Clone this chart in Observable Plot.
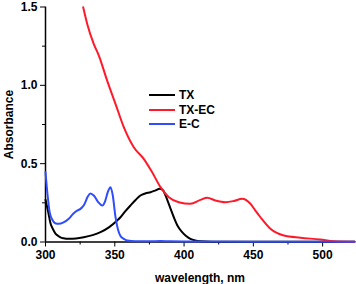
<!DOCTYPE html>
<html>
<head>
<meta charset="utf-8">
<script src="https://cdn.jsdelivr.net/npm/d3@7"></script>
<script src="https://cdn.jsdelivr.net/npm/@observablehq/plot@0.6"></script>
<style>
  html, body { margin: 0; padding: 0; background: #fff; }
  #wrap { position: relative; width: 356px; height: 284px; font-family: "Liberation Sans", Arial, sans-serif; }
  #wrap svg text { font-weight: bold; }
  #legend { position: absolute; left: 149px; top: 88px; font: bold 12px "Liberation Sans", Arial, sans-serif; }
  .row { display: flex; align-items: center; height: 14.5px; }
  .sw { width: 26px; height: 2px; margin-right: 4px; }
</style>
</head>
<body>
<div id="wrap"><div id="legend"></div></div>
<script>
const seriesNames = ["TX", "TX-EC", "E-C"];
const seriesColors = ["#000000", "#ff1a2a", "#2f4dff"];

const txWavelength = [300, 302, 303.6, 305.5, 307.2, 309, 310.8, 313, 316.8, 322, 327.6, 334, 339.7, 346, 351.7, 354.1, 357.5, 361.3, 365, 368.5, 372, 375.8, 379, 382.5, 384.8, 386.6, 389.5, 392.6, 395.5, 398.6, 401.5, 404.6, 408, 412, 420, 440, 480, 523];
const txAbs = [0.27, 0.19, 0.12, 0.08, 0.054, 0.04, 0.03, 0.024, 0.02, 0.022, 0.03, 0.044, 0.063, 0.095, 0.137, 0.158, 0.195, 0.233, 0.268, 0.297, 0.31, 0.318, 0.328, 0.34, 0.33, 0.297, 0.23, 0.158, 0.1, 0.063, 0.038, 0.02, 0.01, 0.005, 0.002, 0.001, 0.001, 0.001];

const txecWavelength = [327.2, 330.1, 334.8, 338.5, 344.5, 350.5, 356.5, 363.7, 370.9, 377, 383, 389, 396.2, 404.6, 411.8, 416.7, 422.6, 429.9, 436, 441.9, 447.9, 451.5, 455.1, 462.3, 472, 484, 498.4, 508, 523];
const txecAbs = [1.498, 1.392, 1.265, 1.19, 1.03, 0.882, 0.733, 0.605, 0.531, 0.445, 0.35, 0.286, 0.254, 0.244, 0.269, 0.282, 0.265, 0.254, 0.262, 0.276, 0.244, 0.2, 0.158, 0.084, 0.041, 0.027, 0.016, 0.005, 0.002];

const ecWavelength = [300, 301.5, 303, 305, 307, 309.6, 313, 317, 320, 322.8, 325, 328, 330.5, 332.5, 335, 338, 340.9, 343, 345, 346.9, 348.5, 350.5, 352.3, 354, 356.5, 359, 365, 375, 383, 390, 400, 450, 523];
const ecAbs = [0.445, 0.3, 0.19, 0.14, 0.12, 0.116, 0.125, 0.15, 0.18, 0.2, 0.21, 0.24, 0.29, 0.31, 0.295, 0.255, 0.233, 0.26, 0.32, 0.35, 0.3, 0.16, 0.08, 0.04, 0.02, 0.01, 0.005, 0.004, 0.007, 0.004, 0.003, 0.002, 0.002];

const xMajorTicks = [300, 350, 400, 450, 500];
const xMinorTicks = [325, 375, 425, 475];
const yMajorTicks = [0, 0.5, 1.0, 1.5];
const yMinorTicks = [0.25, 0.75, 1.25];

const xLabel = "wavelength, nm";
const yLabel = "Absorbance";

const toRows = (name, ws, as) => ws.map((w, i) => ({series: name, w, a: as[i]}));
const data = [
  ...toRows("TX", txWavelength, txAbs),
  ...toRows("TX-EC", txecWavelength, txecAbs),
  ...toRows("E-C", ecWavelength, ecAbs)
];

const chart = Plot.plot({
  width: 356,
  height: 284,
  marginLeft: 45,
  marginRight: 2,
  marginTop: 6.5,
  marginBottom: 42.5,
  style: {fontFamily: "'Liberation Sans', Arial, sans-serif", fontSize: "12px", fontWeight: "bold", background: "#fff", color: "#000"},
  x: {domain: [300, 523]},
  y: {domain: [0, 1.5]},
  color: {domain: seriesNames, range: seriesColors},
  marks: [
    Plot.axisX({ticks: xMinorTicks, tickSize: 3, tickFormat: () => "", label: null}),
    Plot.axisX({ticks: xMajorTicks, tickSize: 5, tickPadding: 3, tickFormat: d3.format("d"), label: xLabel, labelArrow: "none", labelAnchor: "center", labelOffset: 40}),
    Plot.axisY({ticks: yMinorTicks, tickSize: 3, tickFormat: () => "", label: null}),
    Plot.axisY({ticks: yMajorTicks, tickSize: 5, tickPadding: 3, tickFormat: d3.format(".1f"), label: yLabel, labelArrow: "none", labelAnchor: "center", labelOffset: 41}),
    Plot.ruleX([300], {strokeWidth: 1.5}),
    Plot.ruleY([0], {strokeWidth: 1.5}),
    Plot.line(data, {x: "w", y: "a", z: "series", stroke: "series", strokeWidth: 2, curve: "monotone-x"})
  ]
});
document.getElementById("wrap").prepend(chart);

const legend = document.getElementById("legend");
seriesNames.forEach((n, i) => {
  const row = document.createElement("div");
  row.className = "row";
  row.innerHTML = `<div class="sw" style="background:${seriesColors[i]}"></div><span>${n}</span>`;
  legend.appendChild(row);
});
</script>
</body>
</html>
